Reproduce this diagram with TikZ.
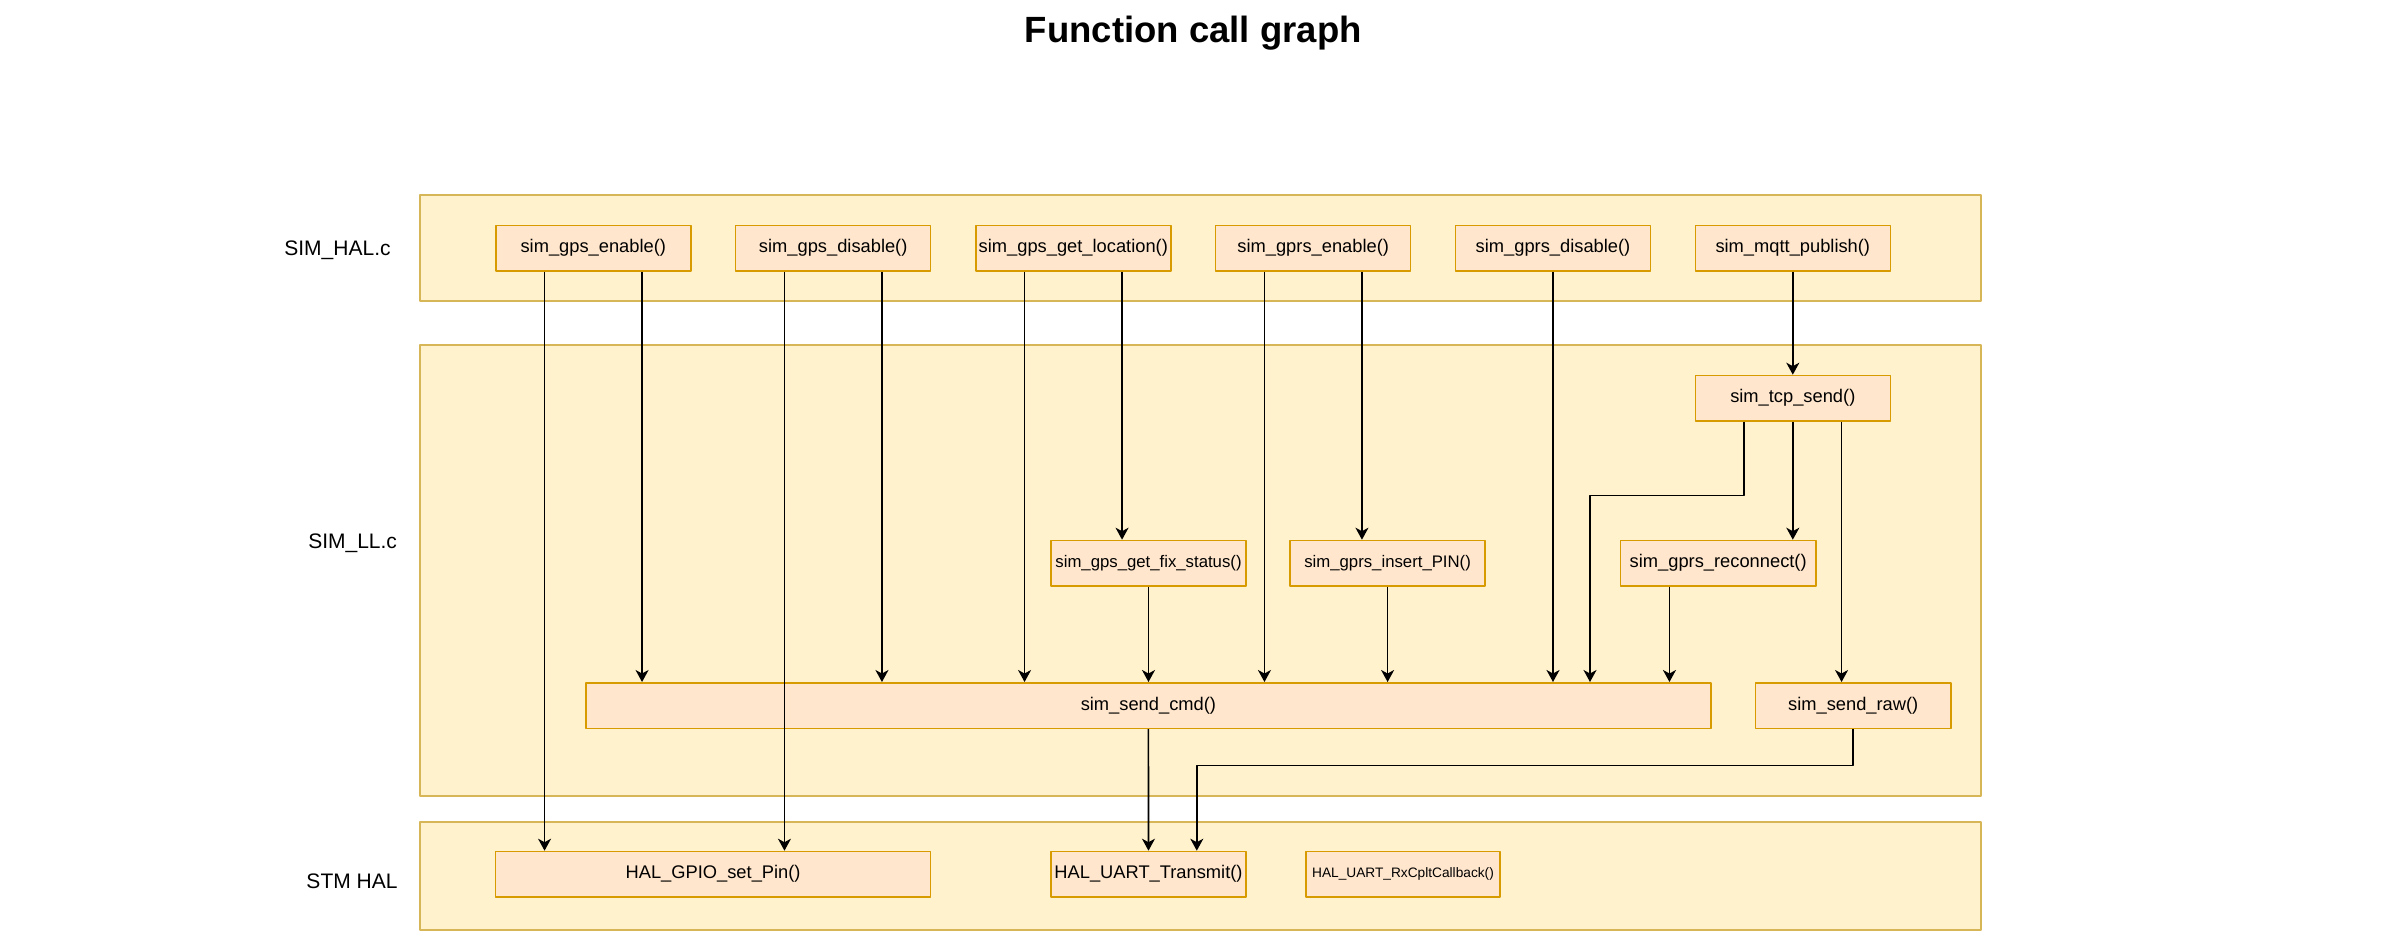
\documentclass[tikz,border=0pt]{standalone}
\usepackage{fontspec}
\setmainfont{Liberation Sans}
\usetikzlibrary{arrows.meta}
\definecolor{layerfill}{HTML}{FFF2CC}
\definecolor{layerline}{HTML}{D6B656}
\definecolor{funcfill}{HTML}{FFE6CC}
\definecolor{funcline}{HTML}{D79B00}

\begin{document}
\begin{tikzpicture}[line join=round,x=1pt,y=-1pt,
	layer/.style={draw=layerline,fill=layerfill,line width=1.5pt,minimum width=1561pt,inner sep=0pt},
	func/.style={draw=funcline,fill=funcfill,line width=1.5pt,minimum width=195pt,minimum height=45.5pt,inner sep=0pt,font=\fontsize{18.3}{22}\selectfont},
	small/.style={font=\fontsize{16.75}{20}\selectfont},
	tiny/.style={font=\fontsize{13.7}{16}\selectfont},
	side/.style={anchor=base,font=\fontsize{21}{25}\selectfont},
	call/.style={-{Stealth[length=12pt,width=13pt,inset=3.5pt]},line width=1.6pt}]
			\useasboundingbox (0,0) rectangle (2388,932);
			% layers
			\node[layer,minimum height=106pt] (hal) at (1200.5,248) {};
			\node[layer,minimum height=451pt] (ll) at (1200.5,570.5) {};
			\node[layer,minimum height=108pt] (stm) at (1200.5,876) {};
			\node[anchor=base,font=\fontsize{36.5}{44}\selectfont\bfseries] (title) at (1193.3,42.7) {Function call graph};
			\node[side] (halname) at (337.5,255.5) {SIM\_HAL.c};
			\node[side] (llname) at (352.6,548.3) {SIM\_LL.c};
			\node[side] (stmname) at (352,888.3) {STM HAL};
			% SIM_HAL.c
			\node[func] (ge) at (593.3,248.2) {sim\_gps\_enable()};
			\node[func] (gd) at (833.2,248.2) {sim\_gps\_disable()};
			\node[func] (gl) at (1073.3,248.2) {sim\_gps\_get\_location()};
			\node[func] (pe) at (1313.2,248.2) {sim\_gprs\_enable()};
			\node[func] (pd) at (1553,248.2) {sim\_gprs\_disable()};
			\node[func] (mq) at (1792.8,248.2) {sim\_mqtt\_publish()};
			% SIM_LL.c
			\node[func] (tcp) at (1792.8,398.2) {sim\_tcp\_send()};
			\node[func,small] (fix) at (1148.5,563.2) {sim\_gps\_get\_fix\_status()};
			\node[func,small] (pin) at (1387.6,563.2) {sim\_gprs\_insert\_PIN()};
			\node[func,minimum width=195.7pt] (rec) at (1718.2,563.2) {sim\_gprs\_reconnect()};
			\node[func,minimum width=1125.3pt] (cmd) at (1148.4,705.5) {sim\_send\_cmd()};
			\node[func,minimum width=195.7pt] (raw) at (1853.2,705.5) {sim\_send\_raw()};
			% STM HAL
			\node[func,minimum width=435.2pt] (gpio) at (713.1,874.2) {HAL\_GPIO\_set\_Pin()};
			\node[func] (uart) at (1148.5,874.2) {HAL\_UART\_Transmit()};
			\node[func,tiny,minimum width=194pt] (rx) at (1403,874.2) {HAL\_UART\_RxCpltCallback()};
			\coordinate (tcpturn) at (1590,495.3);
			\coordinate (rawturn) at (1196.8,765.5);
			% calls
			\draw[call] ([xshift=-48.75pt]ge.south) -- ([xshift=-48.75pt]ge.south |- gpio.north);
			\draw[call] ([xshift=48.75pt]ge.south) -- ([xshift=48.75pt]ge.south |- cmd.north);
			\draw[call] ([xshift=-48.75pt]gd.south) -- ([xshift=-48.75pt]gd.south |- gpio.north);
			\draw[call] ([xshift=48.75pt]gd.south) -- ([xshift=48.75pt]gd.south |- cmd.north);
			\draw[call] ([xshift=-48.75pt]gl.south) -- ([xshift=-48.75pt]gl.south |- cmd.north);
			\draw[call] ([xshift=48.75pt]gl.south) -- ([xshift=48.75pt]gl.south |- fix.north);
			\draw[call] (fix) -- (fix.south |- cmd.north);
			\draw[call] ([xshift=-48.75pt]pe.south) -- ([xshift=-48.75pt]pe.south |- cmd.north);
			\draw[call] ([xshift=48.75pt]pe.south) -- ([xshift=48.75pt]pe.south |- pin.north);
			\draw[call] (pin) -- (pin.south |- cmd.north);
			\draw[call] (pd) -- (pd.south |- cmd.north);
			\draw[call] (mq) -- (tcp);
			\draw[call] ([xshift=-48.75pt]tcp.south) |- (tcpturn) -- (tcpturn |- cmd.north);
			\draw[call] (tcp.south) -- (tcp.south |- rec.north);
			\draw[call] ([xshift=48.75pt]tcp.south) -- ([xshift=48.75pt]tcp.south |- raw.north);
			\draw[call] ([xshift=-48.75pt]rec.south) -- ([xshift=-48.75pt]rec.south |- cmd.north);
			\draw[call] (cmd) -- (uart);
			\draw[call] (raw.south) |- (rawturn) -- (rawturn |- uart.north);
		\end{tikzpicture}
\end{document}
